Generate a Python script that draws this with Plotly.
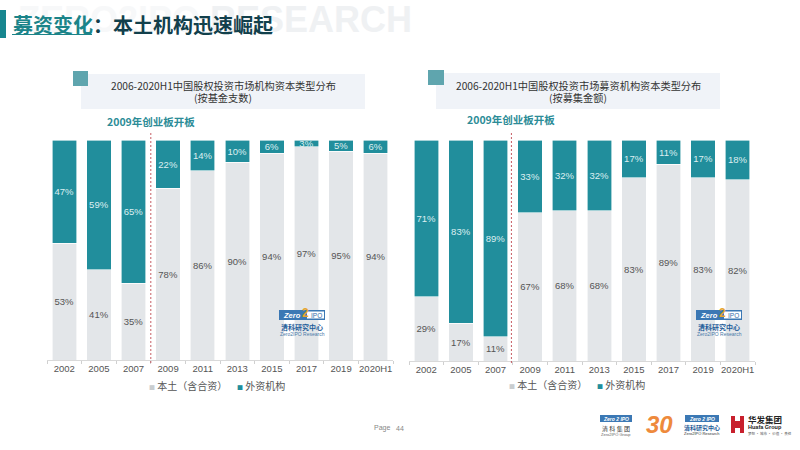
import plotly.graph_objects as go

years = ['2002', '2005', '2007', '2009', '2011', '2013', '2015', '2017', '2019', '2020H1']
local_count = [53, 41, 35, 78, 86, 90, 94, 97, 95, 94]
foreign_count = [47, 59, 65, 22, 14, 10, 6, 3, 5, 6]
local_amount = [29, 17, 11, 67, 68, 68, 83, 89, 83, 82]
foreign_amount = [71, 83, 89, 33, 32, 32, 17, 11, 17, 18]

TEAL = '#218E9C'
GREY = '#E3E6E9'
CJK = 'Noto Sans CJK SC'
LATIN = 'Liberation Sans, Noto Sans CJK SC'
W, H = 800, 450


def px(x):
    return x / W


def py(y):
    return 1 - y / H


def pct(vals):
    return [str(v) + '%' for v in vals]


def bar(vals, color, fcolor, xa, ya):
    return go.Bar(x=years, y=vals, text=pct(vals), xaxis=xa, yaxis=ya, width=0.71,
                  marker=dict(color=color, line=dict(color='white', width=0.6)),
                  textposition='inside', insidetextanchor='middle', textangle=0,
                  constraintext='none', cliponaxis=False,
                  textfont=dict(family=LATIN, size=9.5, color=fcolor), showlegend=False)


fig = go.Figure()
fig.add_trace(bar(local_count, GREY, '#555555', 'x', 'y'))
fig.add_trace(bar(foreign_count, TEAL, '#DDEFF1', 'x', 'y'))
fig.add_trace(bar(local_amount, GREY, '#555555', 'x2', 'y2'))
fig.add_trace(bar(foreign_amount, TEAL, '#DDEFF1', 'x2', 'y2'))

shapes = []
annos = []


def rect(x0, y0, x1, y1, color, layer='below'):
    shapes.append(dict(type='rect', xref='paper', yref='paper', x0=px(x0), x1=px(x1),
                       y0=py(y1), y1=py(y0), fillcolor=color, line_width=0, layer=layer))


def label(x, y, s, size, color, family=CJK, anchor='center', bold=False):
    if bold:
        s = '<b>' + s + '</b>'
    annos.append(dict(xref='paper', yref='paper', x=px(x), y=py(y), text=s, showarrow=False,
                      xanchor=anchor, yanchor='middle', align='center', borderpad=0,
                      font=dict(family=family, size=size, color=color)))


def logo(x, y):
    # small Zero2IPO research mark inside the charts
    rect(x, y, x + 46, y + 10, '#3B78B4', 'above')
    rect(x + 28, y + 1.5, x + 45, y + 8.5, '#FFFFFF', 'above')
    label(x + 13, y + 5, '<b><i>Zero</i></b>', 7.5, 'white', LATIN)
    label(x + 26, y + 3, '<b>2</b>', 12, '#E6A52E', LATIN)
    label(x + 37, y + 5, 'IPO', 6.5, '#2F6CA8', LATIN)
    label(x + 23, y + 17, '<b>清科研究中心</b>', 7, '#1F5D99')
    label(x + 23, y + 23.5, 'Zero2IPO Research', 5, '#4A79A8', LATIN)


# header
label(215, 19, '<b><span style="color:#F7F8F9">ZERO2IPO</span> RESEARCH</b>', 36, '#EFF1F3', LATIN)
rect(0, 10, 6, 38, '#17868F')
label(12, 24, '<b><span style="color:#1B8489">募资变化</span>：本土机构迅速崛起</b>', 20, '#12404C', anchor='left')
rect(12, 34, 92, 35, '#1B8489', 'above')

# chart captions
rect(81, 74, 365, 109, '#F0F3F8')
rect(73, 71, 88, 86, '#5FA5AE')
label(223, 85.5, '2006-2020H1中国股权投资市场机构资本类型分布', 10.2, '#333333')
label(223, 97.5, '(按基金支数)', 10.2, '#333333')
rect(436, 73, 720, 109, '#F0F3F8')
rect(428, 70, 444, 85, '#5FA5AE')
label(578, 85.5, '2006-2020H1中国股权投资市场募资机构资本类型分布', 10.2, '#333333')
label(578, 97.5, '(按募集金额)', 10.2, '#333333')

label(151, 122, '2009年创业板开板', 10.5, '#2C8C97', bold=True)
label(511, 120, '2009年创业板开板', 10.5, '#2C8C97', bold=True)

for xref, xpos in (('x', 2.5), ('x2', 2.46)):
    shapes.append(dict(type='line', xref=xref, yref='paper', x0=xpos, x1=xpos, y0=py(363), y1=py(132),
                       line=dict(color='#B8323C', width=0.8, dash='2px,2px'), layer='above'))

# legends
mark = '<span style="color:{};font-size:6px">■</span> '
label(148, 385, mark.format('#C9CDD0') + '本土（含合资）', 10, '#555555', anchor='left')
label(236, 385, mark.format(TEAL) + '外资机构', 10, '#555555', anchor='left')
label(508, 384, mark.format('#C9CDD0') + '本土（含合资）', 10, '#555555', anchor='left')
label(596, 384, mark.format(TEAL) + '外资机构', 10, '#555555', anchor='left')

logo(279, 310)
logo(696, 310)

# footer
label(382, 428, 'Page', 7, '#888888', LATIN)
label(400, 428, '44', 7, '#888888', LATIN)

rect(600, 415, 632, 422, '#3B78B4')
label(616, 418.5, '<b><i>Zero 2 IPO</i></b>', 5, 'white', LATIN)
label(616, 428, '清 科 集 团', 6, '#333333')
label(616, 434, 'Zero2IPO Group', 4, '#666666', LATIN)
label(659, 424, '<b><i>30</i></b>', 24, '#EE8A3C', LATIN)
rect(685, 415, 719, 422, '#3B78B4')
label(702, 418.5, '<b><i>Zero 2 IPO</i></b>', 5, 'white', LATIN)
label(702, 427, '<b>清科研究中心</b>', 6, '#1F5D99')
label(702, 433, 'Zero2IPO Research', 4, '#333333', LATIN)
rect(731, 416, 744, 433, '#C8202D')
rect(735, 416, 740, 421, 'white', 'above')
rect(735, 428, 740, 433, 'white', 'above')
label(747, 419, '<b>华发集团</b>', 8.5, '#222222', anchor='left')
label(747, 426.5, '<b>Huafa Group</b>', 5.5, '#222222', LATIN, anchor='left')
label(747, 433, '梦想 · 城市 · 价值 · 责任', 3.5, '#555555', anchor='left')

xcommon = dict(type='category', categoryorder='array', categoryarray=years, tickson='boundaries',
               ticks='outside', ticklen=3, tickcolor='#D0D0D0', showline=True, linecolor='#D9D9D9',
               linewidth=1, showgrid=False, tickangle=0, automargin=False,
               tickfont=dict(family=LATIN, size=9.5, color='#555555'))
ycommon = dict(range=[0, 100], visible=False, showgrid=False)

fig.update_layout(
    width=W, height=H, margin=dict(l=0, r=0, t=0, b=0), autosize=False,
    paper_bgcolor='white', plot_bgcolor='rgba(0,0,0,0)', barmode='stack', bargap=0.29,
    uniformtext=dict(mode=False), showlegend=False,
    xaxis=dict(domain=[px(47), px(393)], anchor='y', **xcommon),
    yaxis=dict(domain=[py(360), py(140)], anchor='x', **ycommon),
    xaxis2=dict(domain=[px(409), px(755)], anchor='y2', **xcommon),
    yaxis2=dict(domain=[py(361), py(140)], anchor='x2', **ycommon),
    shapes=shapes, annotations=annos,
)

fig.write_html('out.html', config={'displayModeBar': False},
               post_script="document.body.style.margin='0';")
